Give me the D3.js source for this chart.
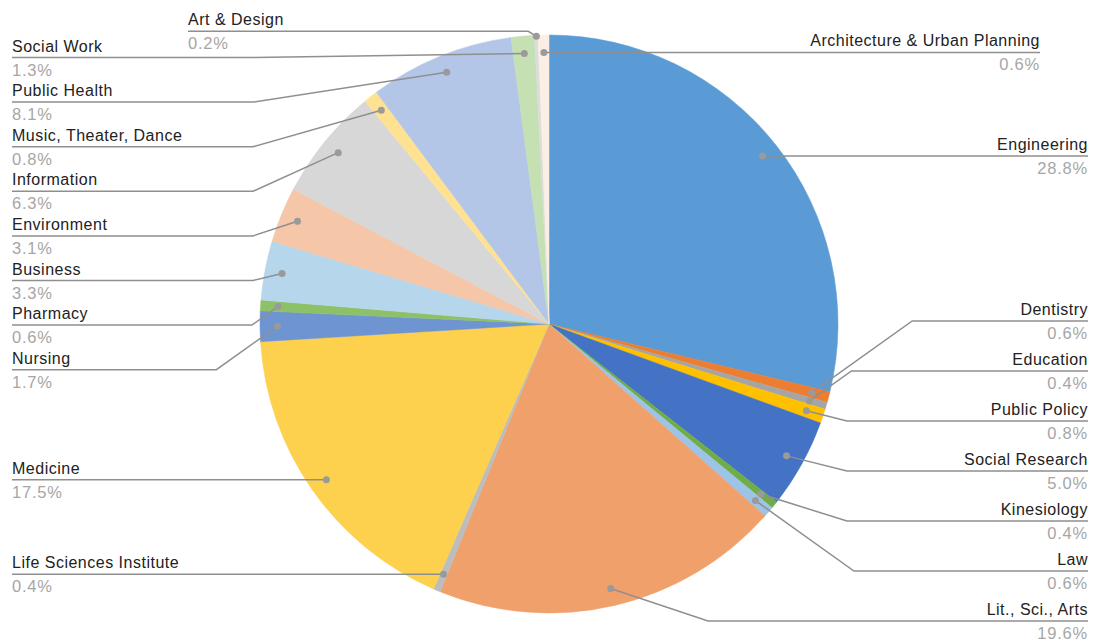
<!DOCTYPE html>
<html>
<head>
<meta charset="utf-8">
<script src="https://cdn.jsdelivr.net/npm/d3@7"></script>
<style>
  body { margin: 0; background: #fff; }
  text { font-family: "Liberation Sans", Arial, sans-serif; }
</style>
</head>
<body>
<div id="chart"></div>
<script>
// slices clockwise from 12 o'clock
const categories = [
    "Engineering", "Dentistry", "Education", "Public Policy", "Social Research",
    "Kinesiology", "Law", "Lit., Sci., Arts", "Life Sciences Institute", "Medicine",
    "Nursing", "Pharmacy", "Business", "Environment", "Information",
    "Music, Theater, Dance", "Public Health", "Social Work", "Art & Design",
    "Architecture & Urban Planning"
];
const shares = [
    28.8, 0.6, 0.4, 0.8, 5.0,
    0.4, 0.6, 19.6, 0.4, 17.5,
    1.7, 0.6, 3.3, 3.1, 6.3,
    0.8, 8.1, 1.3, 0.2,
    0.6
];
const sliceColors = [
    "#5b9bd5", "#ed7d31", "#a5a5a5", "#ffc000", "#4472c4",
    "#70ad47", "#9dc3e6", "#f0a06b", "#bdbdbd", "#fdd04e",
    "#6f94d2", "#8cc168", "#b6d6ec", "#f5c6a8", "#d7d7d7",
    "#ffe291", "#b4c6e7", "#c5e0b3", "#dcdcdc",
    "#fbeee4"
];
// the two labels over the top of the pie are pulled in from the edge
const topLabels = {
    "Art & Design": { side: 'left', inset: 176 },
    "Architecture & Urban Planning": { side: 'right', inset: 48 }
};

const width = 1097, height = 641;
const cx = 549, cy = 324, R = 289;
const textLeft = 12, textRight = 1088;

const svg = d3.select('#chart').append('svg')
    .attr('width', width).attr('height', height);

const data = categories.map((c, i) => ({ name: c, value: shares[i], color: sliceColors[i] }));

const pie = d3.pie().sort(null).value(d => d.value);
const arcs = pie(data);

const arc = d3.arc().innerRadius(0).outerRadius(R);
const g = svg.append('g').attr('transform', `translate(${cx},${cy})`);

g.selectAll('path')
    .data(arcs)
    .enter().append('path')
    .attr('d', arc)
    .attr('fill', d => d.data.color)
    .attr('stroke', d => d.data.color)
    .attr('stroke-width', 0.5);

// anchor dot inside each slice (very thin slices get it on the rim)
const dotArc = d3.arc().innerRadius(R * 0.94).outerRadius(R * 0.94);
const rimArc = d3.arc().innerRadius(R - 1).outerRadius(R - 1);

const labels = arcs.map(d => {
    const mid = (d.startAngle + d.endAngle) / 2;
    const p = (d.data.value < 0.3 ? rimArc : dotArc).centroid(d);
    const top = topLabels[d.data.name];
    return {
        name: d.data.name,
        value: d.data.value,
        side: top ? top.side : (mid < Math.PI ? 'right' : 'left'),
        dx: cx + p[0],
        dy: cy + p[1],
        inset: top ? top.inset : 0
    };
});

// stack labels on each side so they do not collide
function layout(side, gap, top, bottom) {
    const list = labels.filter(l => l.side === side && !l.inset)
        .sort((a, b) => a.dy - b.dy);
    let prev = -Infinity;
    list.forEach(l => {
        l.y = Math.max(l.dy, prev + gap, top);
        prev = l.y;
    });
    let next = Infinity;
    for (let i = list.length - 1; i >= 0; i--) {
        list[i].y = Math.min(list[i].y, next - gap, bottom);
        next = list[i].y;
    }
}
layout('left', 44.6, 57.5, 620);
layout('right', 50, 40, 621);
labels.filter(l => l.inset).forEach(l => { l.y = l.side === 'left' ? l.dy - 5 : l.dy; });

const outerL = cx - (R + 7), outerR = cx + (R + 9);
labels.forEach(l => {
    const sgn = l.side === 'right' ? 1 : -1;
    const dy = Math.abs(l.y - l.dy);
    let ex;
    if (Math.abs(l.y - cy) > R) {
        ex = l.dx + sgn * dy * 3;
    } else {
        const base = (l.side === 'right' ? outerR : outerL) - l.dx;
        ex = l.dx + sgn * Math.max(Math.abs(base), dy * 1.4);
    }
    if (dy < 2) ex = l.dx;
    if (l.inset && l.side === 'left') ex = l.dx - 8;
    l.ex = ex;
    l.tx = l.side === 'right' ? textRight - l.inset : textLeft + l.inset;
});

const lab = svg.append('g');

lab.selectAll('polyline')
    .data(labels)
    .enter().append('polyline')
    .attr('points', d => `${d.dx},${d.dy} ${d.ex},${d.y} ${d.tx},${d.y}`)
    .attr('fill', 'none')
    .attr('stroke', '#8f8f8f')
    .attr('stroke-width', 1.5);

lab.selectAll('circle')
    .data(labels)
    .enter().append('circle')
    .attr('cx', d => d.dx)
    .attr('cy', d => d.dy)
    .attr('r', 3.5)
    .attr('fill', '#9a9a9a');

lab.selectAll('text.name')
    .data(labels)
    .enter().append('text')
    .attr('class', 'name')
    .attr('x', d => d.tx)
    .attr('y', d => d.y - 6)
    .attr('text-anchor', d => d.side === 'right' ? 'end' : 'start')
    .attr('font-size', 16)
    .attr('letter-spacing', 0.5)
    .attr('fill', '#222')
    .text(d => d.name);

lab.selectAll('text.pct')
    .data(labels)
    .enter().append('text')
    .attr('class', 'pct')
    .attr('x', d => d.tx)
    .attr('y', d => d.y + 18)
    .attr('text-anchor', d => d.side === 'right' ? 'end' : 'start')
    .attr('font-size', 16.5)
    .attr('letter-spacing', 0.8)
    .attr('fill', '#a6a6a6')
    .text(d => d.value.toFixed(1) + '%');
</script>
</body>
</html>
